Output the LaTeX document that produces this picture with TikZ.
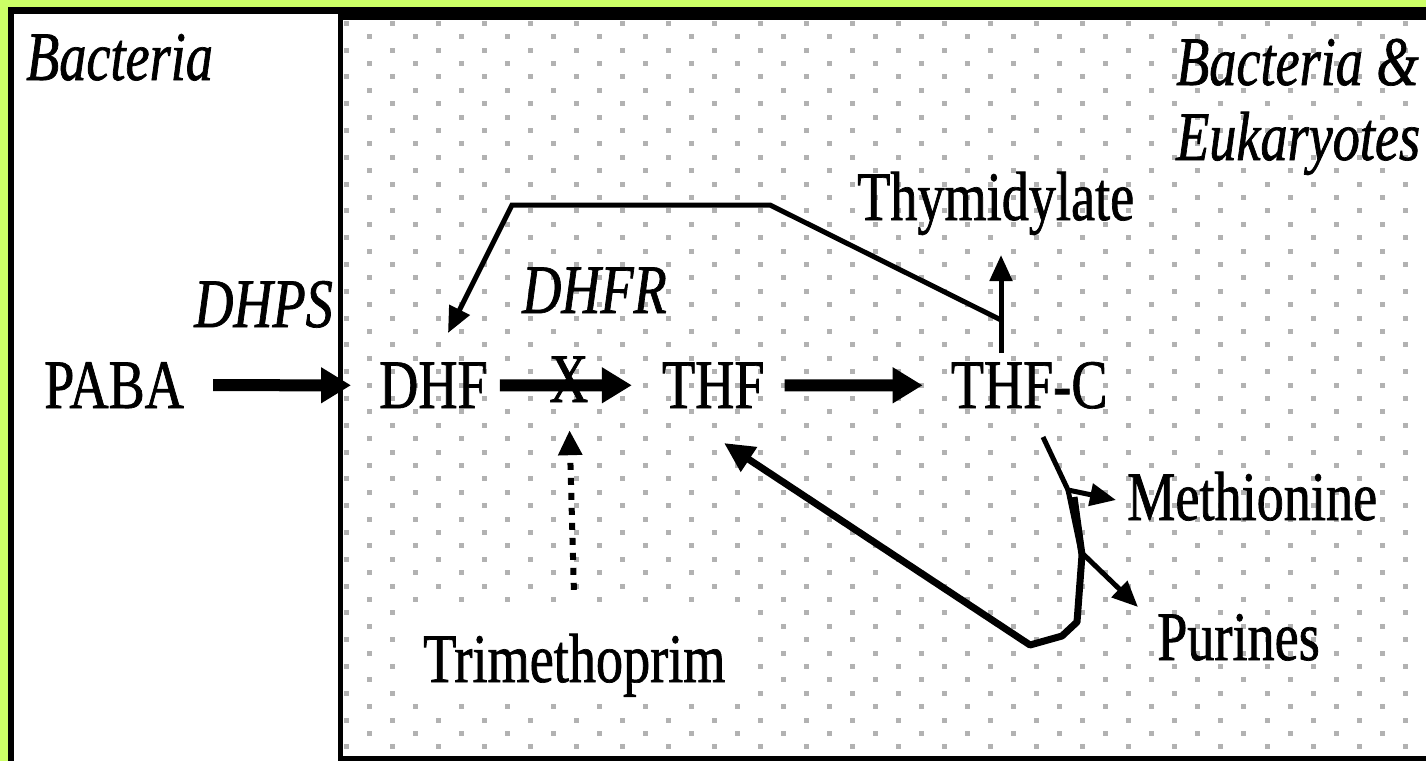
\documentclass[tikz,border=0pt]{standalone}
\usepackage{fontspec}
\setmainfont[FakeStretch=0.78, FakeBold=1]{Liberation Serif}
\usetikzlibrary{positioning,arrows.meta}
\definecolor{framegreen}{RGB}{204,255,102}
\definecolor{dotgray}{RGB}{178,178,178}

\begin{document}
\begin{tikzpicture}[x=1pt, y=-1pt,
  every node/.style={inner sep=0pt, font=\fontsize{69.5}{70}\selectfont},
  lbl/.style={anchor=base west},
  enz/.style={anchor=base west, font=\fontsize{69.5}{70}\selectfont\itshape},
  mainarrow/.style={line width=12pt, -{Triangle[length=30pt,width=34pt]}},
  thinline/.style={line width=5pt},
  thinarrow/.style={line width=5pt, -{Triangle[length=26pt,width=22pt]}},
  backarrow/.style={line width=7pt, line join=round, -{Triangle[length=30pt,width=28pt]}},
  inhib/.style={line width=6pt, dash pattern=on 7pt off 8pt, -{Triangle[length=25pt,width=23pt]}}]
\useasboundingbox (0,0) rectangle (1426,761);
% frame and panels
\fill[framegreen] (0,0) rectangle (1426,761);
\fill[black] (8,7) rectangle (1426,761);
\fill[white] (14,14) rectangle (338,761);
\fill[white] (343,20) rectangle (1426,756);
% dotted background
\foreach \r in {0,...,54}{
  \pgfmathsetmacro\dy{23.3+13.4*\r}
  \pgfmathsetmacro\dx{346+23.025*mod(\r,2)}
  \foreach \c in {0,...,23}
    \fill[dotgray] (\dx+46.05*\c-2.5,\dy-2.5) rectangle ++(5,5);
}
% labels
\node[enz] (bact) at (26,80) {Bacteria};
\node[enz] (both) at (1176,85) {Bacteria \&};
\node[enz] (euk) at (1176,160) {Eukaryotes};
\node[lbl] (paba) at (44,408) {PABA};
\node[lbl, base right=195pt of paba] (dhf) {DHF};
\node[lbl, base right=174pt of dhf] (thf) {THF};
\node[lbl, base right=186pt of thf] (thfc) {THF-C};
\node[enz, anchor=base east] (dhps) at (333,327) {DHPS};
\node[enz] (dhfr) at (522,313) {DHFR};
\node[lbl] (thym) at (857,220) {Thymidylate};
\node[lbl] (meth) at (1127,520) {Methionine};
\node[lbl] (pur) at (1157,660) {Purines};
\node[lbl, fill=white, inner xsep=22pt, text height=77pt, text depth=18pt] (trim) at (401,682) {Trimethoprim};
% main pathway
\draw[mainarrow, shorten <=29pt, shorten >=28pt] (paba) -- (dhf);
\draw[mainarrow, shorten <=12pt, shorten >=30pt] (dhf) -- (thf);
\draw[mainarrow, shorten <=20pt, shorten >=28pt] (thf) -- (thfc);
\node[lbl] (blk) at (549,402) {X};
\draw[inhib, shorten <=15pt, shorten >=28pt] (trim.north) -- (blk.south);
% thymidylate and the way back to DHF
\coordinate (tbase) at (1001,353);
\coordinate (ttip) at (1001,255);
\coordinate (loopa) at (1001,320);
\coordinate (loopb) at (770,205);
\coordinate (loopc) at (512,205);
\coordinate (looptip) at (448,333);
\draw[thinarrow] (tbase) -- (ttip);
\draw[thinarrow] (loopa) -- (loopb) -- (loopc) -- (looptip);
% methionine, purines and back to THF
\coordinate (cstart) at (1043,437);
\coordinate (split) at (1068,490);
\coordinate (methtip) at (1116,500);
\coordinate (purbend) at (1081,552);
\coordinate (purtip) at (1138,607);
\draw[thinarrow] (cstart) -- (split) -- (methtip);
\draw[thinarrow] (split) -- (purbend) -- (purtip);
\draw[backarrow] (1074,497) -- (1082,555) -- (1077,622) -- (1062,636) -- (1030,645) -- (724,443);
\end{tikzpicture}
\end{document}
